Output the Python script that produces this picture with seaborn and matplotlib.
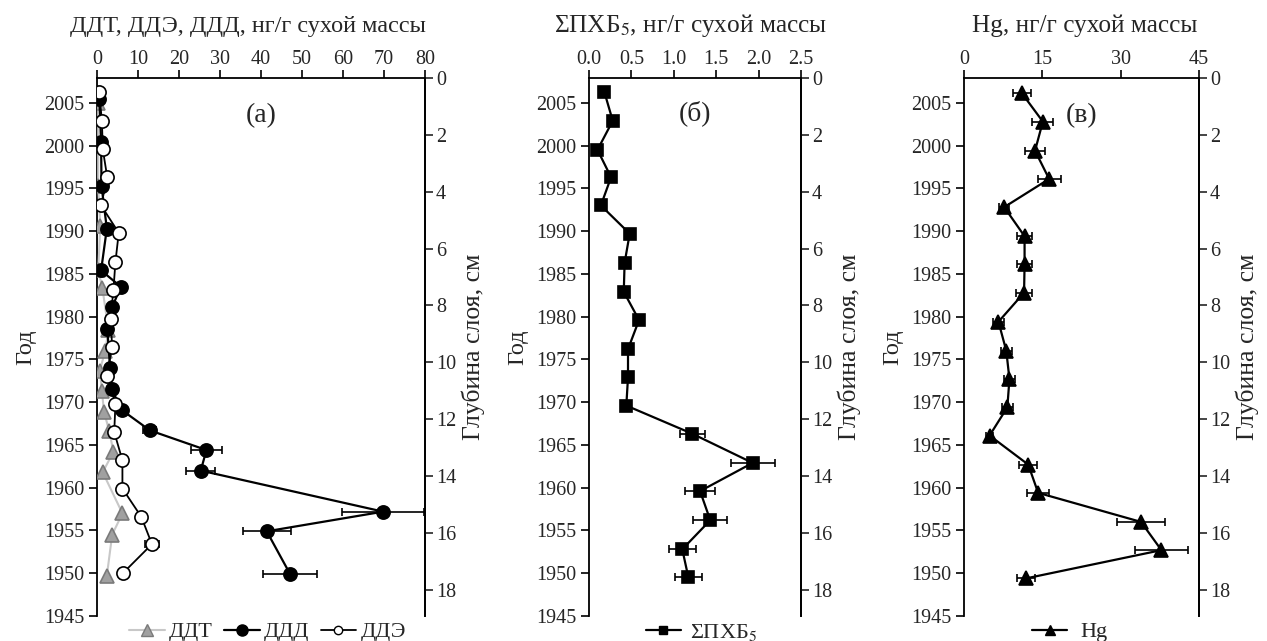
import matplotlib
matplotlib.use("Agg")
import matplotlib.pyplot as plt
from matplotlib.lines import Line2D
import seaborn as sns
import numpy as np
import pandas as pd

# ---------------- data ----------------
# Panel (a): DDT, DDE, DDD
dde_year = [2006.3, 2002.9, 1999.6, 1996.3, 1993.0, 1989.8, 1986.4, 1983.1, 1979.7,
            1976.5, 1973.1, 1969.8, 1966.5, 1963.2, 1959.9, 1956.6, 1953.4, 1950.0]
dde_val = [0.5, 1.2, 1.4, 2.5, 1.0, 5.3, 4.5, 4.0, 3.3,
           3.7, 2.4, 4.5, 4.2, 6.2, 6.2, 10.8, 13.4, 6.3]
dde_err = [0, 0, 0, 0, 0, 0, 0, 0, 0, 0, 0, 0, 0, 0, 0, 0.8, 1.8, 0]

ddd_year = [2005.4, 2000.4, 1995.3, 1990.3, 1985.4, 1983.5, 1981.1, 1978.6, 1974.0,
            1971.5, 1969.1, 1966.7, 1964.4, 1962.0, 1957.2, 1954.9, 1949.9]
ddd_val = [0.6, 1.0, 1.1, 2.4, 1.0, 5.8, 3.7, 2.5, 3.2,
           3.6, 6.0, 12.9, 26.7, 25.3, 69.8, 41.4, 47.1]
ddd_err = [0, 0, 0, 0, 0, 0, 0, 0, 0, 0, 0, 1.6, 3.8, 3.6, 10.0, 5.8, 6.5]

ddt_year = [2005.0, 2000.3, 1995.3, 1990.6, 1985.4, 1983.4, 1978.4, 1976.0, 1973.7,
            1971.3, 1968.9, 1966.6, 1964.2, 1961.8, 1957.0, 1954.5, 1949.7]
ddt_val = [0.3, 0.3, 0.3, 0.8, 0.3, 1.3, 2.8, 2.0, 0.7,
           1.2, 1.7, 3.0, 4.0, 1.4, 6.2, 3.7, 2.4]

# Panel (b): sum PCB5
pcb_year = [2006.3, 2002.9, 1999.5, 1996.3, 1993.0, 1989.7, 1986.3, 1982.9, 1979.6,
            1976.2, 1972.9, 1969.6, 1966.3, 1962.9, 1959.6, 1956.2, 1952.8, 1949.6]
pcb_val = [0.18, 0.28, 0.10, 0.26, 0.14, 0.48, 0.42, 0.41, 0.59,
           0.46, 0.46, 0.44, 1.22, 1.93, 1.31, 1.43, 1.10, 1.17]
pcb_err = [0, 0, 0, 0, 0, 0.05, 0, 0, 0.05,
           0, 0, 0, 0.15, 0.26, 0.18, 0.20, 0.16, 0.16]

# Panel (c): Hg
hg_year = [2006.1, 2002.8, 1999.4, 1996.1, 1992.8, 1989.4, 1986.1, 1982.8, 1979.4,
           1976.0, 1972.7, 1969.4, 1966.1, 1962.7, 1959.4, 1956.0, 1952.7, 1949.4]
hg_val = [11.1, 15.1, 13.6, 16.3, 7.7, 11.6, 11.6, 11.5, 6.6,
          8.1, 8.7, 8.3, 4.9, 12.3, 14.2, 33.9, 37.8, 11.9]
hg_err = [1.8, 2.0, 1.9, 2.2, 1.0, 1.5, 1.5, 1.5, 1.0,
          1.0, 1.0, 1.0, 0.6, 1.7, 2.1, 4.6, 5.1, 1.7]

year_ticks = [1945, 1950, 1955, 1960, 1965, 1970, 1975, 1980, 1985, 1990, 1995, 2000, 2005]
depth_ticks = [0, 2, 4, 6, 8, 10, 12, 14, 16, 18]

# ---------------- style ----------------
sns.set_theme(style="white")
plt.rcParams['font.family'] = ['Liberation Serif', 'DejaVu Serif']
plt.rcParams['mathtext.fontset'] = 'stix'
FS = 14.5
FT = 17.5

fig = plt.figure(figsize=(12.67, 6.41), dpi=100)
W, H = 1267, 641
y_top, y_bot = 78, 616


def make_axes(x0, x1):
    return fig.add_axes([x0 / W, 1 - y_bot / H, (x1 - x0) / W, (y_bot - y_top) / H])


def style(ax, xlim, xticks, xlabels, title, title_x, title_fs):
    ax.set_xlim(*xlim)
    ax.set_ylim(1945, 2007.9)
    ax.xaxis.set_ticks_position('top')
    ax.xaxis.set_label_position('top')
    ax.set_xticks(xticks)
    ax.set_xticklabels(xlabels)
    ax.set_yticks(year_ticks)
    ax.tick_params(axis='both', direction='out', length=6, width=1.2, labelsize=FS,
                   color='black', pad=3)
    ax.tick_params(axis='x', top=True, bottom=False, pad=0.5)
    ax.tick_params(axis='y', left=True)
    for s in ['left', 'top', 'right']:
        ax.spines[s].set_visible(True)
        ax.spines[s].set_color('black')
        ax.spines[s].set_linewidth(1.3)
    ax.spines['bottom'].set_visible(False)
    ax.set_xlabel(title, fontsize=title_fs, labelpad=13)
    ax.xaxis.label.set_x(title_x)
    ax.set_ylabel('Год', fontsize=FT, labelpad=6)
    ax.grid(False)
    tw = ax.twinx()
    tw.set_ylim(18.92, 0)
    tw.set_yticks(depth_ticks)
    tw.tick_params(axis='y', direction='out', length=6, width=1.2, labelsize=FS, pad=2)
    for s in ['left', 'top', 'bottom']:
        tw.spines[s].set_visible(False)
    tw.spines['right'].set_color('black')
    tw.spines['right'].set_linewidth(1.3)
    tw.set_ylabel('Глубина слоя, см', fontsize=18.5, labelpad=4)
    tw.grid(False)
    return tw


def series(ax, vals, years, errs, color, mfc, mec, marker, ms, lw, z):
    df = pd.DataFrame({'v': vals, 'y': years})
    sns.lineplot(data=df, x='v', y='y', sort=False, orient='y', estimator=None,
                 ax=ax, color=color, lw=lw, marker=marker, markersize=ms,
                 markerfacecolor=mfc, markeredgecolor=mec, markeredgewidth=1.2,
                 zorder=z, legend=False)
    if errs is not None:
        ax.errorbar(vals, years, xerr=errs, fmt='none', ecolor=color,
                    elinewidth=1.2, capsize=3, capthick=1.2, zorder=z - 0.5)


# ---------- Panel (a) ----------
axa = make_axes(97, 425)
style(axa, (0, 80), list(range(0, 81, 10)), [str(v) for v in range(0, 81, 10)],
      'ДДТ, ДДЭ, ДДД, нг/г сухой массы', 0.46, FT)
series(axa, ddt_val, ddt_year, None, '#c8c8c8', '#a0a0a0', '#7a7a7a', '^', 10.5, 1.5, 3)
series(axa, ddd_val, ddd_year, ddd_err, 'black', 'black', 'black', 'o', 9.5, 1.6, 4)
series(axa, dde_val, dde_year, dde_err, 'black', 'white', 'black', 'o', 9.5, 1.3, 5)
axa.text(0.5, 0.93, '(а)', transform=axa.transAxes, fontsize=20, ha='center', va='center')
h_a = [Line2D([], [], color='#c8c8c8', lw=1.5, marker='^', markersize=9,
              markerfacecolor='#a0a0a0', markeredgecolor='#7a7a7a'),
       Line2D([], [], color='black', lw=1.6, marker='o', markersize=8,
              markerfacecolor='black', markeredgecolor='black'),
       Line2D([], [], color='black', lw=1.3, marker='o', markersize=6,
              markerfacecolor='white', markeredgecolor='black')]
axa.legend(h_a, ['ДДТ', 'ДДД', 'ДДЭ'], loc='center', bbox_to_anchor=(0.52, -0.03),
           ncol=3, frameon=False, fontsize=FS + 1.5, handlelength=1.6, handletextpad=0.2,
           columnspacing=0.5, borderaxespad=0)

# ---------- Panel (b) ----------
axb = make_axes(589, 801)
style(axb, (0, 2.5), [0, 0.5, 1.0, 1.5, 2.0, 2.5], ['0.0', '0.5', '1.0', '1.5', '2.0', '2.5'],
      'ΣПХБ$_5$, нг/г сухой массы', 0.48, 18.2)
series(axb, pcb_val, pcb_year, pcb_err, 'black', 'black', 'black', 's', 8, 1.6, 4)
axb.text(0.5, 0.935, '(б)', transform=axb.transAxes, fontsize=20, ha='center', va='center')
h_b = [Line2D([], [], color='black', lw=1.6, marker='s', markersize=6,
              markerfacecolor='black', markeredgecolor='black')]
axb.legend(h_b, ['ΣПХБ$_5$'], loc='center', bbox_to_anchor=(0.53, -0.03),
           ncol=1, frameon=False, fontsize=FS + 1.5, handlelength=1.6, handletextpad=0.4,
           borderaxespad=0)

# ---------- Panel (c) ----------
axc = make_axes(964, 1199)
style(axc, (0, 45), [0, 15, 30, 45], ['0', '15', '30', '45'],
      'Hg, нг/г сухой массы', 0.515, 18.2)
series(axc, hg_val, hg_year, hg_err, 'black', 'black', 'black', '^', 9.5, 1.6, 4)
axc.text(0.5, 0.93, '(в)', transform=axc.transAxes, fontsize=20, ha='center', va='center')
h_c = [Line2D([], [], color='black', lw=1.6, marker='^', markersize=7,
              markerfacecolor='black', markeredgecolor='black')]
axc.legend(h_c, ['Hg'], loc='center', bbox_to_anchor=(0.45, -0.03),
           ncol=1, frameon=False, fontsize=FS + 1.5, handlelength=1.6, handletextpad=0.6,
           borderaxespad=0)

fig.savefig('out.png', dpi=100)
